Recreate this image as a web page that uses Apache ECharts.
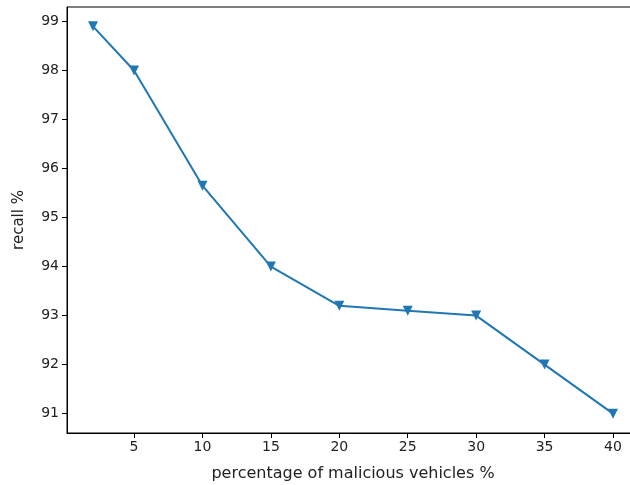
<!DOCTYPE html>
<html>
<head>
<meta charset="utf-8">
<script src="https://cdn.jsdelivr.net/npm/echarts@6/dist/echarts.min.js"></script>
<style>
  html, body { margin: 0; padding: 0; background: #fff; }
  #chart { width: 630px; height: 485px; }
</style>
</head>
<body>
<div id="chart"></div>
<script>
// Share of malicious vehicles in the network (x) and detection recall (y)
const maliciousPct = [2, 5, 10, 15, 20, 25, 30, 35, 40];
const recallPct = [98.9, 98.0, 95.65, 94.0, 93.2, 93.1, 93.0, 92.0, 91.0];
const xTicks = [5, 10, 15, 20, 25, 30, 35, 40];
const yTicks = [91, 92, 93, 94, 95, 96, 97, 98, 99];

// Axis ranges padded by 5% of the data span on each side
const xSpan = Math.max(...maliciousPct) - Math.min(...maliciousPct);
const ySpan = Math.max(...recallPct) - Math.min(...recallPct);
const xMin = Math.min(...maliciousPct) - 0.05 * xSpan;
const xMax = Math.max(...maliciousPct) + 0.05 * xSpan;
const yMin = Math.min(...recallPct) - 0.05 * ySpan;
const yMax = Math.max(...recallPct) + 0.05 * ySpan;

const font = 'DejaVu Sans';
const chart = echarts.init(document.getElementById('chart'), null, { renderer: 'canvas' });

chart.setOption({
  animation: false,
  backgroundColor: '#ffffff',
  grid: {
    left: 67, top: 7, width: 572, height: 426,
    outerBoundsMode: 'none',
    containLabel: false,
    show: true, borderColor: '#000', borderWidth: 1, backgroundColor: 'transparent'
  },
  xAxis: {
    type: 'value',
    min: xMin, max: xMax,
    name: 'percentage of malicious vehicles %',
    nameLocation: 'middle',
    nameGap: 33,
    nameTextStyle: { fontFamily: font, fontSize: 16, color: '#222' },
    axisLine: { show: true, lineStyle: { color: '#000', width: 1 } },
    axisTick: { show: true, inside: false, length: 5, customValues: xTicks, lineStyle: { color: '#000' } },
    axisLabel: { customValues: xTicks, margin: 7, fontFamily: font, fontSize: 14, color: '#222' },
    splitLine: { show: false }
  },
  yAxis: {
    type: 'value',
    min: yMin, max: yMax,
    name: 'recall %',
    nameLocation: 'middle',
    nameGap: 40,
    nameRotate: 90,
    nameTextStyle: { fontFamily: font, fontSize: 15, color: '#222' },
    axisLine: { show: true, lineStyle: { color: '#000', width: 1 } },
    axisTick: { show: true, inside: false, length: 5, customValues: yTicks, lineStyle: { color: '#000' } },
    axisLabel: { customValues: yTicks, margin: 8, fontFamily: font, fontSize: 14, color: '#222' },
    splitLine: { show: false }
  },
  series: [{
    type: 'line',
    data: maliciousPct.map((x, i) => [x, recallPct[i]]),
    symbol: 'triangle',
    symbolRotate: 180,
    symbolSize: 10,
    itemStyle: { color: '#1f77b4' },
    lineStyle: { color: '#1f77b4', width: 2 },
    clip: false
  }]
});
</script>
</body>
</html>
